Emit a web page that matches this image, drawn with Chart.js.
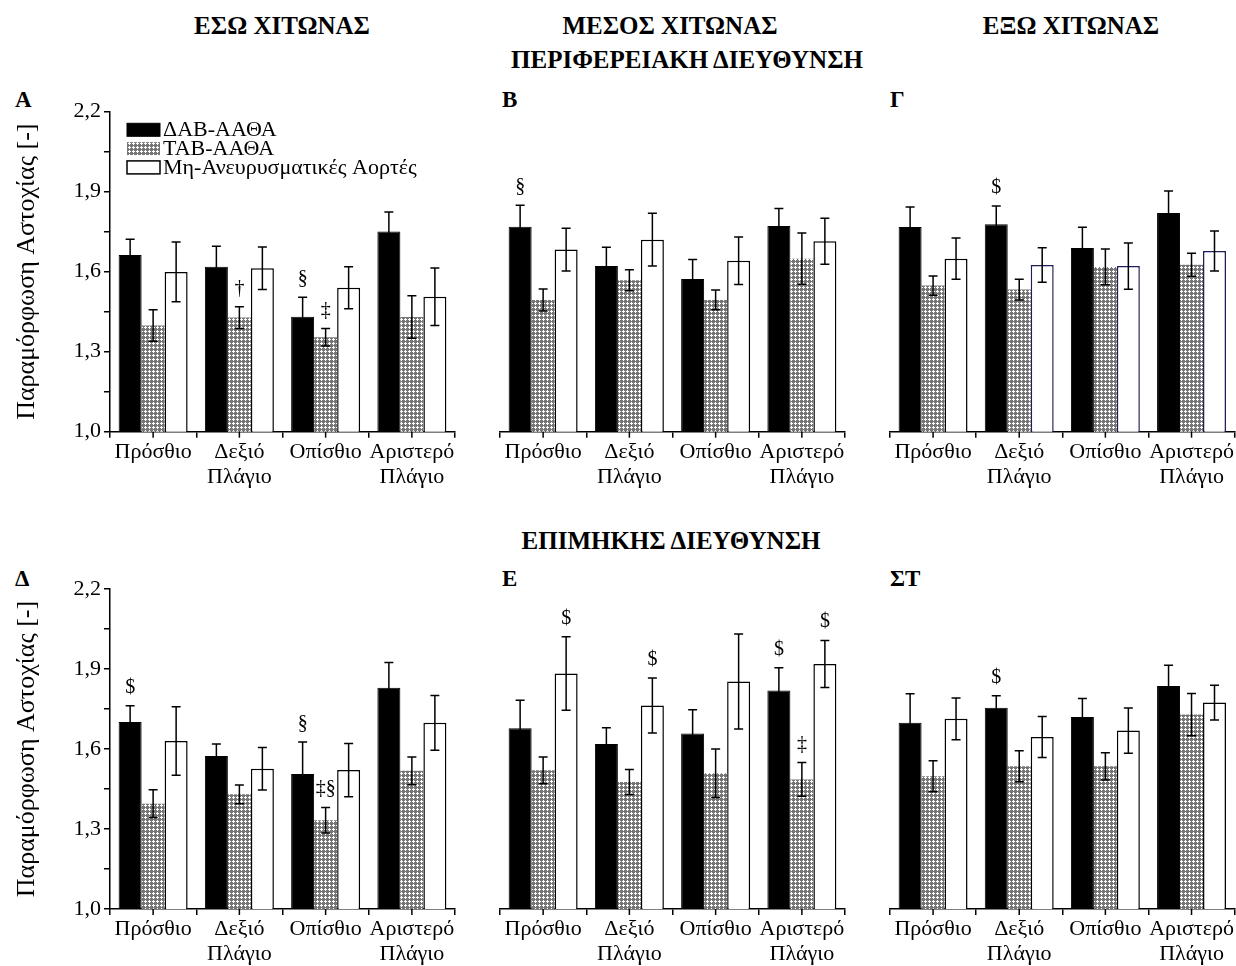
<!DOCTYPE html>
<html>
<head>
  <title>Παραμόρφωση Αστοχίας</title>
  <script src="https://cdn.jsdelivr.net/npm/chart.js@4"></script>
  <style>
    body {
      margin: 0;
      width: 1236px;
      height: 966px;
      overflow: hidden;
      position: relative;
      background: #fff;
      font-family: 'Liberation Serif', 'Times New Roman', serif;
      color: #000;
    }
    canvas { position: absolute; }
    .head {
      position: absolute;
      font-weight: bold;
      font-size: 25px;
      white-space: nowrap;
      transform: translate(-50%, -50%);
    }
    .tag {
      position: absolute;
      font-weight: bold;
      font-size: 23px;
      transform: translateY(-50%);
    }
  </style>
</head>
<body>
  <div class="head" style="left:282px; top:26px">ΕΣΩ ΧΙΤΩΝΑΣ</div>
  <div class="head" style="left:670px; top:26px">ΜΕΣΟΣ ΧΙΤΩΝΑΣ</div>
  <div class="head" style="left:1071px; top:26px">ΕΞΩ ΧΙΤΩΝΑΣ</div>
  <div class="head" style="left:687px; top:60px">ΠΕΡΙΦΕΡΕΙΑΚΗ ΔΙΕΥΘΥΝΣΗ</div>
  <div class="head" style="left:671px; top:541px">ΕΠΙΜΗΚΗΣ ΔΙΕΥΘΥΝΣΗ</div>

  <div class="tag" style="left:15px; top:100px">Α</div>
  <div class="tag" style="left:502px; top:100px">Β</div>
  <div class="tag" style="left:890px; top:100px">Γ</div>
  <div class="tag" style="left:15px; top:579px">Δ</div>
  <div class="tag" style="left:502px; top:579px">Ε</div>
  <div class="tag" style="left:890px; top:579px">ΣΤ</div>

  <canvas id="pA" width="470" height="410" style="left:0px; top:90px"></canvas>
  <canvas id="pB" width="400" height="410" style="left:470px; top:90px"></canvas>
  <canvas id="pG" width="376" height="410" style="left:860px; top:90px"></canvas>
  <canvas id="pD" width="470" height="420" style="left:0px; top:560px"></canvas>
  <canvas id="pE" width="400" height="420" style="left:470px; top:560px"></canvas>
  <canvas id="pS" width="376" height="420" style="left:860px; top:560px"></canvas>

  <script>
    const categories = [['Πρόσθιο'], ['Δεξιό', 'Πλάγιο'], ['Οπίσθιο'], ['Αριστερό', 'Πλάγιο']];
    const seriesNames = ['ΔΑΒ-ΑΑΘΑ', 'ΤΑΒ-ΑΑΘΑ', 'Μη-Ανευρυσματικές Αορτές'];
    const yTickLabels = ['1,0', '1,3', '1,6', '1,9', '2,2'];
    const yTitle = 'Παραμόρφωση Αστοχίας [-]';

    // circumferential direction (top row)
    const dabA = [1.663, 1.619, 1.431, 1.751];
    const tabA = [1.398, 1.428, 1.354, 1.430];
    const nonA = [1.599, 1.613, 1.540, 1.506];
    const dabA_err = [0.059, 0.076, 0.073, 0.073];
    const tabA_err = [0.059, 0.041, 0.033, 0.080];
    const nonA_err = [0.112, 0.080, 0.079, 0.108];
    const marksA = [[1, 1, '†'], [2, 0, '§'], [2, 1, '‡']];

    const dabB = [1.769, 1.621, 1.573, 1.771];
    const tabB = [1.494, 1.568, 1.494, 1.649];
    const nonB = [1.683, 1.720, 1.641, 1.714];
    const dabB_err = [0.080, 0.071, 0.073, 0.066];
    const tabB_err = [0.041, 0.039, 0.037, 0.096];
    const nonB_err = [0.080, 0.099, 0.089, 0.086];
    const marksB = [[0, 0, '§']];

    const dabG = [1.768, 1.778, 1.689, 1.820];
    const tabG = [1.548, 1.533, 1.618, 1.626];
    const nonG = [1.649, 1.625, 1.621, 1.678];
    const dabG_err = [0.075, 0.068, 0.078, 0.083];
    const tabG_err = [0.036, 0.039, 0.067, 0.043];
    const nonG_err = [0.077, 0.065, 0.087, 0.075];
    const marksG = [[1, 0, '$']];

    // longitudinal direction (bottom row)
    const dabD = [1.701, 1.574, 1.506, 1.830];
    const tabD = [1.395, 1.430, 1.333, 1.518];
    const nonD = [1.630, 1.526, 1.521, 1.698];
    const dabD_err = [0.061, 0.045, 0.120, 0.094];
    const tabD_err = [0.052, 0.035, 0.048, 0.052];
    const nonD_err = [0.128, 0.080, 0.100, 0.103];
    const marksD = [[0, 0, '$'], [2, 0, '§'], [2, 1, '‡§']];

    const dabE = [1.678, 1.619, 1.658, 1.819];
    const tabE = [1.520, 1.476, 1.509, 1.486];
    const nonE = [1.883, 1.763, 1.853, 1.919];
    const dabE_err = [0.105, 0.061, 0.089, 0.086];
    const tabE_err = [0.050, 0.047, 0.091, 0.063];
    const nonE_err = [0.138, 0.103, 0.178, 0.088];
    const marksE = [[0, 2, '$'], [1, 2, '$'], [3, 0, '$'], [3, 1, '‡'], [3, 2, '$']];

    const dabS = [1.698, 1.755, 1.720, 1.836];
    const tabS = [1.498, 1.535, 1.535, 1.729];
    const nonS = [1.713, 1.645, 1.669, 1.774];
    const dabS_err = [0.109, 0.045, 0.069, 0.078];
    const tabS_err = [0.058, 0.058, 0.051, 0.079];
    const nonS_err = [0.078, 0.077, 0.085, 0.065];
    const marksS = [[1, 0, '$']];

    const serif = "'Liberation Serif', 'Times New Roman', serif";
    Chart.defaults.font.family = serif;
    Chart.defaults.color = '#000';

    // grey mesh used for the TAB bars
    function makeHatch() {
      const tile = document.createElement('canvas');
      tile.width = 4; tile.height = 4;
      const g = tile.getContext('2d');
      g.fillStyle = '#767676';
      g.fillRect(0, 0, 4, 4);
      g.fillStyle = '#fff';
      g.fillRect(1, 0, 1, 3);
      g.fillRect(0, 1, 3, 1);
      return g.createPattern(tile, 'repeat');
    }
    const hatch = makeHatch();

    // error bars, significance symbols and the centre ticks of the x axis
    const errorBars = {
      id: 'errorBars',
      afterDatasetsDraw(chart) {
        const ctx = chart.ctx, y = chart.scales.y, x = chart.scales.x;
        ctx.save();
        ctx.strokeStyle = '#000';
        ctx.lineWidth = 1.5;
        chart.data.datasets.forEach((ds, i) => {
          chart.getDatasetMeta(i).data.forEach((bar, j) => {
            const top = y.getPixelForValue(ds.data[j] + ds.errors[j]);
            const bot = y.getPixelForValue(ds.data[j] - ds.errors[j]);
            ctx.beginPath();
            ctx.moveTo(bar.x, top); ctx.lineTo(bar.x, bot);
            ctx.moveTo(bar.x - 4.5, top); ctx.lineTo(bar.x + 4.5, top);
            ctx.moveTo(bar.x - 4.5, bot); ctx.lineTo(bar.x + 4.5, bot);
            ctx.stroke();
          });
        });

        chart.data.labels.forEach((_, i) => {
          const px = x.getPixelForValue(i);
          ctx.beginPath();
          ctx.moveTo(px, x.top);
          ctx.lineTo(px, x.top + 6);
          ctx.stroke();
        });

        ctx.fillStyle = '#000';
        ctx.font = '20px ' + serif;
        ctx.textAlign = 'center';
        ctx.textBaseline = 'alphabetic';
        (chart.data.marks || []).forEach(([g, s, t]) => {
          const ds = chart.data.datasets[s];
          const bar = chart.getDatasetMeta(s).data[g];
          ctx.fillText(t, bar.x, y.getPixelForValue(ds.data[g] + ds.errors[g]) - 13);
        });
        ctx.restore();
      }
    };

    // compact legend in the top left corner of the plot
    const boxLegend = {
      id: 'boxLegend',
      afterDatasetsDraw(chart) {
        const {ctx, chartArea} = chart;
        ctx.save();
        ctx.font = '22px ' + serif;
        ctx.textAlign = 'left';
        ctx.textBaseline = 'middle';
        chart.data.datasets.forEach((ds, i) => {
          const bx = chartArea.left + 17;
          const by = chartArea.top + 11.6 + i * 18.8;
          ctx.fillStyle = ds.backgroundColor;
          ctx.fillRect(bx, by, 33, 13);
          if (ds.borderWidth) {
            ctx.lineWidth = ds.borderWidth;
            ctx.strokeStyle = '#000';
            ctx.strokeRect(bx, by, 33, 13);
          }
          ctx.fillStyle = '#000';
          ctx.fillText(ds.label, bx + 36, by + 7);
        });
        ctx.restore();
      }
    };

    function panel(id, values, errors, marks, opt) {
      const showY = !!opt.showY;
      return new Chart(document.getElementById(id), {
        type: 'bar',
        data: {
          labels: categories,
          marks: marks,
          datasets: [
            { label: seriesNames[0], data: values[0], errors: errors[0],
              backgroundColor: '#000', borderColor: '#000', borderWidth: 1 },
            { label: seriesNames[1], data: values[1], errors: errors[1],
              backgroundColor: hatch, borderWidth: 0 },
            { label: seriesNames[2], data: values[2], errors: errors[2],
              backgroundColor: '#fff', borderColor: opt.whiteBorder || '#000', borderWidth: 1.5 }
          ]
        },
        options: {
          responsive: false,
          animation: false,
          categoryPercentage: 0.8,
          barPercentage: 1.0,
          layout: { padding: opt.padding },
          plugins: {
            tooltip: { enabled: false },
            legend: { display: false }
          },
          scales: {
            x: {
              offset: true,
              grid: { offset: true, drawOnChartArea: false, tickLength: 6, color: '#000', lineWidth: 1.5 },
              border: { display: true, color: '#000', width: 1.5 },
              ticks: { color: '#000', font: { size: 22, lineHeight: 1.14 }, padding: 2, maxRotation: 0, autoSkip: false },
              afterFit: s => { s.height = opt.xHeight; }
            },
            y: {
              display: showY,
              min: 1.0,
              max: 2.2,
              grid: { drawOnChartArea: false, tickLength: 6, color: '#000', lineWidth: 1.5 },
              border: { color: '#000', width: 1.5 },
              ticks: {
                stepSize: 0.15,
                color: '#000',
                font: { size: 22 },
                padding: 3,
                callback: (v, i) => (i % 2 ? '' : yTickLabels[i / 2])
              },
              title: {
                display: showY,
                text: yTitle,
                color: '#000',
                font: { size: 26 },
                padding: { top: 12, bottom: 0 }
              },
              afterFit: s => { if (showY) s.width = 110; }
            }
          }
        },
        plugins: opt.legend ? [errorBars, boxLegend] : [errorBars]
      });
    }

    panel('pA', [dabA, tabA, nonA], [dabA_err, tabA_err, nonA_err], marksA,
      { showY: true, legend: true, padding: { left: 0, right: 15, top: 21.7, bottom: 0 }, xHeight: 68.3 });
    panel('pB', [dabB, tabB, nonB], [dabB_err, tabB_err, nonB_err], marksB,
      { padding: { left: 30, right: 25, top: 21.7, bottom: 0 }, xHeight: 68.3 });
    panel('pG', [dabG, tabG, nonG], [dabG_err, tabG_err, nonG_err], marksG,
      { padding: { left: 30, right: 1, top: 21.7, bottom: 0 }, xHeight: 68.3,
        whiteBorder: ['#000', '#1e1e5a', '#1e1e5a', '#1e1e5a'] });
    panel('pD', [dabD, tabD, nonD], [dabD_err, tabD_err, nonD_err], marksD,
      { showY: true, padding: { left: 0, right: 15, top: 29, bottom: 0 }, xHeight: 71 });
    panel('pE', [dabE, tabE, nonE], [dabE_err, tabE_err, nonE_err], marksE,
      { padding: { left: 30, right: 25, top: 29, bottom: 0 }, xHeight: 71 });
    panel('pS', [dabS, tabS, nonS], [dabS_err, tabS_err, nonS_err], marksS,
      { padding: { left: 30, right: 1, top: 29, bottom: 0 }, xHeight: 71 });
  </script>
</body>
</html>
